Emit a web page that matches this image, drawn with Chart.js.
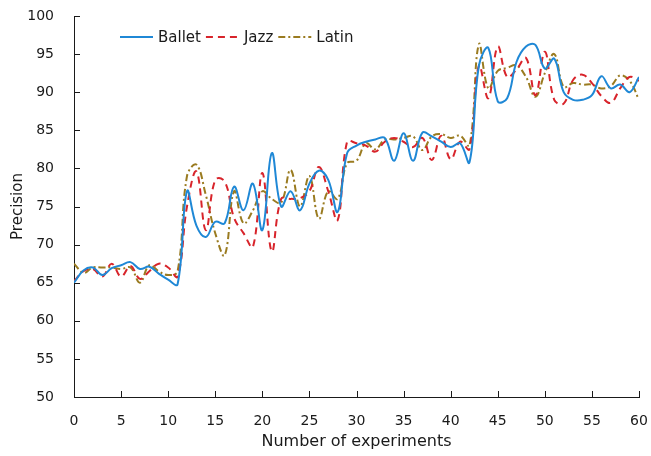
<!DOCTYPE html>
<html>
<head>
<meta charset="utf-8">
<script src="https://cdn.jsdelivr.net/npm/chart.js@4.4.0/dist/chart.umd.min.js"></script>
<style>
  html, body { margin: 0; padding: 0; background: #fff; }
</style>
</head>
<body>
<canvas id="chart" width="651" height="456"></canvas>
<script>
// x values (number of experiments)
const experiments = [0, 1, 2, 3, 4, 5, 6, 7, 8, 9, 10, 11, 12, 13, 14, 15, 16, 17, 18, 19, 20,
    21, 22, 23, 24, 25, 26, 27, 28, 29, 30, 31, 32, 33, 34, 35, 36, 37, 38, 39, 40,
    41, 42, 43, 44, 45, 46, 47, 48, 49, 50, 51, 52, 53, 54, 55, 56, 57, 58, 59, 60];

const ballet = [65.0, 66.6, 67.0, 66.0, 66.9, 67.3, 67.7, 66.8, 67.1, 66.2, 65.4, 64.8,
    77.0, 72.5, 71.0, 73.0, 72.8, 77.6, 74.5, 78.0, 71.9, 82.0,
    75.0, 77.0, 74.5, 78.0, 79.7, 78.5, 74.3, 82.0, 83.0,
    83.5, 83.8, 84.0, 81.0, 84.6, 81.0, 84.7, 84.2, 83.5, 82.8, 83.3, 80.8,
    93.5, 95.8, 88.8, 89.2, 94.0, 96.0, 96.2, 93.1, 94.4, 90.0, 89.0, 89.0, 89.6, 92.1, 90.5, 91.0, 90.0, 92.0];

const jazz = [65.2, 66.5, 66.8, 65.8, 67.5, 65.8, 67.2, 65.5, 66.5, 67.5, 67.0, 65.8,
    75.0, 79.6, 71.9, 78.5, 78.3, 73.5, 71.5, 69.7, 79.4, 69.1,
    76.0, 76.0, 76.1, 77.0, 80.2, 77.0, 73.2, 83.5, 83.3,
    83.0, 82.2, 83.5, 84.0, 83.5, 82.8, 84.0, 81.1, 84.3, 81.2, 83.5, 82.5,
    93.5, 89.2, 96.0, 92.0, 93.0, 94.5, 89.6, 95.3, 89.0, 88.5, 91.6, 92.3, 91.2, 89.5, 88.6, 90.5, 92.0, 91.5];

const latin = [67.5, 66.3, 67.0, 67.0, 67.0, 66.8, 67.0, 65.0, 67.3, 66.5, 66.0, 66.5,
    79.0, 80.5, 76.5, 71.5, 68.6, 77.0, 72.8, 74.5, 77.0, 76.0,
    75.5, 79.8, 75.0, 79.0, 73.4, 77.0, 76.0, 80.7, 81.0,
    83.3, 82.5, 83.8, 83.8, 84.0, 84.2, 82.4, 84.2, 84.5, 84.0, 84.3, 83.0,
    96.3, 90.5, 92.8, 93.2, 93.5, 92.0, 89.4, 92.5, 95.0, 90.7, 91.2, 91.0, 91.0, 90.5, 90.8, 92.2, 91.5, 89.0];

const xTicks = [0, 5, 10, 15, 20, 25, 30, 35, 40, 45, 50, 55, 60];
const yTicks = [50, 55, 60, 65, 70, 75, 80, 85, 90, 95, 100];

const FONT = 'DejaVu Sans';
const INK = '#1a1a1a';

const toPoints = values => experiments.map((x, i) => ({ x, y: values[i] }));

// ticks pointing into the plot area
const innerTicks = {
    id: 'innerTicks',
    afterDraw(chart) {
        const { ctx, chartArea, scales } = chart;
        ctx.save();
        ctx.strokeStyle = INK;
        ctx.lineWidth = 1;
        ctx.beginPath();
        scales.x.ticks.forEach(t => {
            const px = Math.round(scales.x.getPixelForValue(t.value)) + 0.5;
            ctx.moveTo(px, chartArea.bottom);
            ctx.lineTo(px, chartArea.bottom - 6);
        });
        scales.y.ticks.forEach(t => {
            const py = Math.round(scales.y.getPixelForValue(t.value)) + 0.5;
            ctx.moveTo(chartArea.left, py);
            ctx.lineTo(chartArea.left + 6, py);
        });
        ctx.stroke();
        ctx.restore();
    }
};

// compact legend in the upper left of the plot
const insideLegend = {
    id: 'insideLegend',
    afterDraw(chart) {
        const { ctx } = chart;
        let cursor = 120;
        const y = 37;
        ctx.save();
        ctx.font = '15px "' + FONT + '"';
        ctx.textBaseline = 'middle';
        chart.data.datasets.forEach(ds => {
            ctx.strokeStyle = ds.borderColor;
            ctx.lineWidth = ds.borderWidth;
            ctx.setLineDash(ds.borderDash || []);
            ctx.beginPath();
            ctx.moveTo(cursor, y);
            ctx.lineTo(cursor + 33, y);
            ctx.stroke();
            ctx.setLineDash([]);
            ctx.fillStyle = INK;
            ctx.fillText(ds.label, cursor + 38, y + 1);
            cursor += 38 + ctx.measureText(ds.label).width + 5;
        });
        ctx.restore();
    }
};

new Chart(document.getElementById('chart').getContext('2d'), {
    type: 'line',
    data: {
        datasets: [{
            label: 'Ballet',
            data: toPoints(ballet),
            borderColor: '#1f88d6',
            borderWidth: 2,
            tension: 0.4
        }, {
            label: 'Jazz',
            data: toPoints(jazz),
            borderColor: '#d8242b',
            borderWidth: 2,
            borderDash: [7, 5],
            tension: 0.4
        }, {
            label: 'Latin',
            data: toPoints(latin),
            borderColor: '#9a7b20',
            borderWidth: 2,
            borderDash: [7, 3, 2, 3],
            tension: 0.4
        }]
    },
    options: {
        responsive: false,
        animation: false,
        devicePixelRatio: 1,
        layout: { padding: { top: 16, right: 12, left: 0, bottom: 0 } },
        elements: { point: { radius: 0 } },
        plugins: {
            legend: { display: false },
            tooltip: { enabled: false }
        },
        scales: {
            x: {
                type: 'linear',
                min: 0,
                max: 60,
                afterBuildTicks: scale => { scale.ticks = xTicks.map(v => ({ value: v })); },
                afterFit: scale => {
                    scale.height = 59;
                    scale.paddingLeft = 0;
                    scale.paddingRight = 0;
                },
                grid: { display: false },
                border: { display: true, color: INK, width: 1 },
                ticks: { color: INK, padding: 8, font: { family: FONT, size: 14 }, maxRotation: 0 },
                title: {
                    display: true,
                    text: 'Number of experiments',
                    color: INK,
                    font: { family: FONT, size: 16 },
                    padding: { top: 5, bottom: 5 }
                }
            },
            y: {
                min: 50,
                max: 100,
                afterBuildTicks: scale => { scale.ticks = yTicks.map(v => ({ value: v })); },
                afterFit: scale => {
                    scale.width = 74;
                    scale.paddingTop = 0;
                    scale.paddingBottom = 0;
                },
                grid: { display: false },
                border: { display: true, color: INK, width: 1 },
                ticks: { color: INK, padding: 12, font: { family: FONT, size: 14 } },
                title: {
                    display: true,
                    text: 'Precision',
                    color: INK,
                    font: { family: FONT, size: 15 },
                    padding: { top: 9, bottom: 9 }
                }
            }
        }
    },
    plugins: [innerTicks, insideLegend]
});
</script>
</body>
</html>
